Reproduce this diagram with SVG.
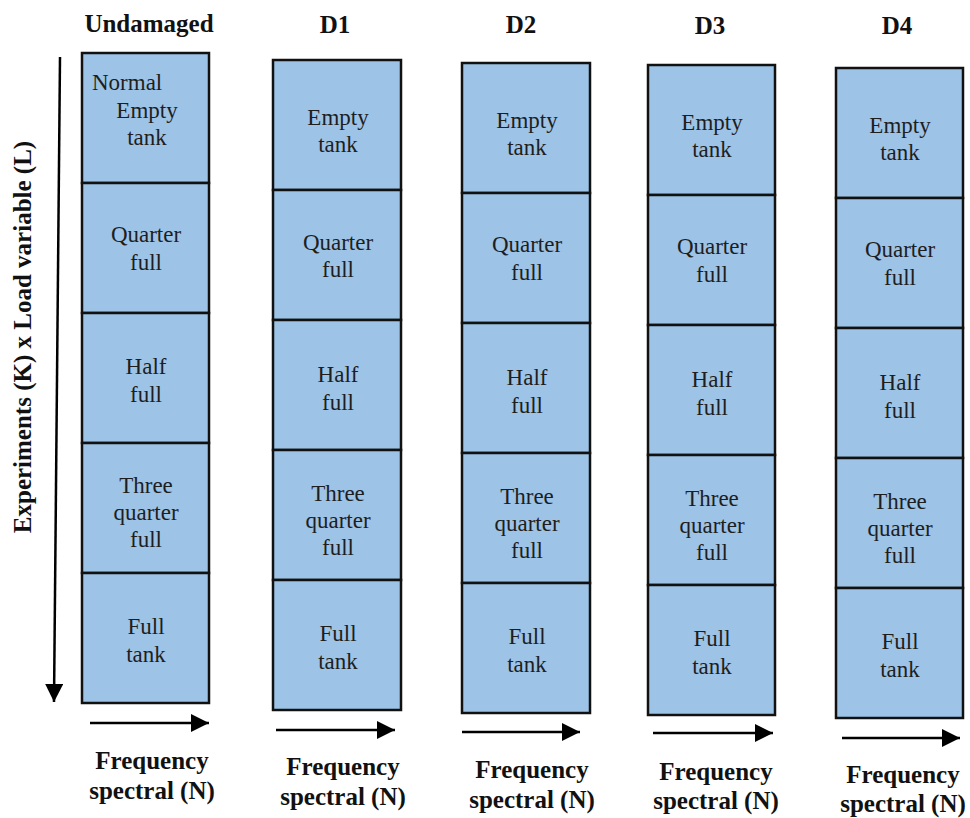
<svg xmlns="http://www.w3.org/2000/svg" width="970" height="818" viewBox="0 0 970 818" font-family="Liberation Serif, DejaVu Serif, Times New Roman, serif">
<defs>
<marker id="ah" markerUnits="userSpaceOnUse" markerWidth="18" markerHeight="18" viewBox="0 0 16 16" refX="16" refY="8" orient="auto">
<path d="M0,0 L16,8 L0,16 Z" fill="#000"/>
</marker>
</defs>
<style>
.cell{fill:#9DC3E6;stroke:#111;stroke-width:2.5}
.t{font-size:23px;fill:#1e1e1e;text-anchor:middle}
.h{font-size:25px;font-weight:bold;fill:#111;text-anchor:middle}
.ax{stroke:#000;stroke-width:2.5;fill:none;marker-end:url(#ah)}
</style>
<rect width="970" height="818" fill="#fff"/>

<g id="col-undamaged">
<text class="h" x="149" y="32">Undamaged</text>
<rect class="cell" x="82" y="53" width="127" height="130"/>
<rect class="cell" x="82" y="183" width="127" height="130"/>
<rect class="cell" x="82" y="313" width="127" height="130"/>
<rect class="cell" x="82" y="443" width="127" height="130"/>
<rect class="cell" x="82" y="573" width="127" height="130"/>
<text class="t" x="92" y="90" text-anchor="start" style="text-anchor:start">Normal</text>
<text class="t" x="147" y="118">Empty</text>
<text class="t" x="147" y="145">tank</text>
<text class="t" x="146" y="242">Quarter</text>
<text class="t" x="146" y="270">full</text>
<text class="t" x="146" y="374">Half</text>
<text class="t" x="146" y="402">full</text>
<text class="t" x="146" y="493">Three</text>
<text class="t" x="146" y="520">quarter</text>
<text class="t" x="146" y="547">full</text>
<text class="t" x="146" y="634">Full</text>
<text class="t" x="146" y="662">tank</text>
<text class="h" x="152" y="769">Frequency</text>
<text class="h" x="152" y="799">spectral (N)</text>
</g>

<g id="col-d1">
<text class="h" x="335" y="33">D1</text>
<rect class="cell" x="273" y="60" width="128" height="130"/>
<rect class="cell" x="273" y="190" width="128" height="130"/>
<rect class="cell" x="273" y="320" width="128" height="130"/>
<rect class="cell" x="273" y="450" width="128" height="130"/>
<rect class="cell" x="273" y="580" width="128" height="130"/>
<text class="t" x="338" y="125">Empty</text>
<text class="t" x="338" y="152">tank</text>
<text class="t" x="338" y="250">Quarter</text>
<text class="t" x="338" y="277">full</text>
<text class="t" x="338" y="382">Half</text>
<text class="t" x="338" y="410">full</text>
<text class="t" x="338" y="501">Three</text>
<text class="t" x="338" y="528">quarter</text>
<text class="t" x="338" y="555">full</text>
<text class="t" x="338" y="641">Full</text>
<text class="t" x="338" y="669">tank</text>
<text class="h" x="343" y="775">Frequency</text>
<text class="h" x="343" y="805">spectral (N)</text>
</g>

<g id="col-d2">
<text class="h" x="521" y="33">D2</text>
<rect class="cell" x="462" y="63" width="128" height="130"/>
<rect class="cell" x="462" y="193" width="128" height="130"/>
<rect class="cell" x="462" y="323" width="128" height="130"/>
<rect class="cell" x="462" y="453" width="128" height="130"/>
<rect class="cell" x="462" y="583" width="128" height="130"/>
<text class="t" x="527" y="128">Empty</text>
<text class="t" x="527" y="155">tank</text>
<text class="t" x="527" y="252">Quarter</text>
<text class="t" x="527" y="280">full</text>
<text class="t" x="527" y="385">Half</text>
<text class="t" x="527" y="413">full</text>
<text class="t" x="527" y="504">Three</text>
<text class="t" x="527" y="531">quarter</text>
<text class="t" x="527" y="558">full</text>
<text class="t" x="527" y="644">Full</text>
<text class="t" x="527" y="672">tank</text>
<text class="h" x="532" y="778">Frequency</text>
<text class="h" x="532" y="808">spectral (N)</text>
</g>

<g id="col-d3">
<text class="h" x="710" y="34">D3</text>
<rect class="cell" x="648" y="65" width="127" height="130"/>
<rect class="cell" x="648" y="195" width="127" height="130"/>
<rect class="cell" x="648" y="325" width="127" height="130"/>
<rect class="cell" x="648" y="455" width="127" height="130"/>
<rect class="cell" x="648" y="585" width="127" height="130"/>
<text class="t" x="712" y="130">Empty</text>
<text class="t" x="712" y="157">tank</text>
<text class="t" x="712" y="254">Quarter</text>
<text class="t" x="712" y="282">full</text>
<text class="t" x="712" y="387">Half</text>
<text class="t" x="712" y="415">full</text>
<text class="t" x="712" y="506">Three</text>
<text class="t" x="712" y="533">quarter</text>
<text class="t" x="712" y="560">full</text>
<text class="t" x="712" y="646">Full</text>
<text class="t" x="712" y="674">tank</text>
<text class="h" x="716" y="780">Frequency</text>
<text class="h" x="716" y="809">spectral (N)</text>
</g>

<g id="col-d4">
<text class="h" x="897" y="34">D4</text>
<rect class="cell" x="836" y="68" width="127" height="130"/>
<rect class="cell" x="836" y="198" width="127" height="130"/>
<rect class="cell" x="836" y="328" width="127" height="130"/>
<rect class="cell" x="836" y="458" width="127" height="130"/>
<rect class="cell" x="836" y="588" width="127" height="130"/>
<text class="t" x="900" y="133">Empty</text>
<text class="t" x="900" y="160">tank</text>
<text class="t" x="900" y="257">Quarter</text>
<text class="t" x="900" y="285">full</text>
<text class="t" x="900" y="390">Half</text>
<text class="t" x="900" y="418">full</text>
<text class="t" x="900" y="509">Three</text>
<text class="t" x="900" y="536">quarter</text>
<text class="t" x="900" y="563">full</text>
<text class="t" x="900" y="649">Full</text>
<text class="t" x="900" y="677">tank</text>
<text class="h" x="903" y="783">Frequency</text>
<text class="h" x="903" y="812">spectral (N)</text>
</g>

<g id="axis-label">
<text class="h" transform="translate(31,337) rotate(-90)">Experiments (K) x Load variable (L)</text>
</g>

<g id="connectors">
<line class="ax" x1="60" y1="57" x2="54" y2="702"/>
<line class="ax" x1="90" y1="723" x2="209" y2="723"/>
<line class="ax" x1="276" y1="730" x2="395" y2="730"/>
<line class="ax" x1="462" y1="732" x2="580" y2="732"/>
<line class="ax" x1="653" y1="733" x2="773" y2="733"/>
<line class="ax" x1="842" y1="738" x2="960" y2="738"/>
</g>
</svg>
